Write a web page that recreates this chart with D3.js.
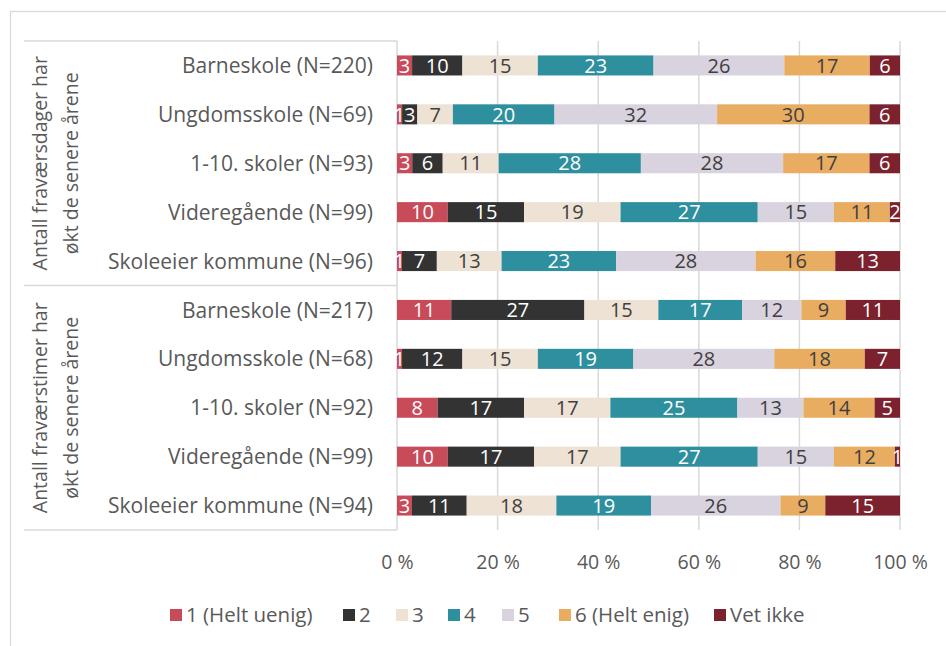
<!DOCTYPE html>
<html lang="no">
<head>
  <meta charset="UTF-8">
  <title>Fravær – stablet søylediagram</title>
  <style>
    * { margin: 0; padding: 0; box-sizing: border-box; }
    body { background: #fff; font-family: 'Open Sans', Lato, sans-serif; }
    svg text { font-family: 'Open Sans', Lato, sans-serif; }
  </style>
  <script src="https://cdn.jsdelivr.net/npm/d3@7/dist/d3.min.js"></script>
</head>
<body>
  <svg id="chart" width="946" height="646"></svg>

  <script>
    // rows, top to bottom
    const categories = [
      'Barneskole (N=220)', 'Ungdomsskole (N=69)', '1-10. skoler (N=93)', 'Videregående (N=99)', 'Skoleeier kommune (N=96)',
      'Barneskole (N=217)', 'Ungdomsskole (N=68)', '1-10. skoler (N=92)', 'Videregående (N=99)', 'Skoleeier kommune (N=94)'
    ];
    const groupLabels = [
      ['Antall fraværsdager har', 'økt de senere årene'],
      ['Antall fraværstimer har', 'økt de senere årene']
    ];
    const groupSize = 5;

    const seriesNames = ['1 (Helt uenig)', '2', '3', '4', '5', '6 (Helt enig)', 'Vet ikke'];
    const seriesColors = ['#C84B5A', '#333333', '#EDE2D4', '#2E8F9E', '#D9D2DF', '#E9AD62', '#7B222E'];
    const labelColors = ['#fff', '#fff', '#404040', '#fff', '#404040', '#404040', '#fff'];

    // percent per row
    const helUenig = [3, 1, 3, 10, 1, 11, 1, 8, 10, 3];
    const svar2    = [10, 3, 6, 15, 7, 27, 12, 17, 17, 11];
    const svar3    = [15, 7, 11, 19, 13, 15, 15, 17, 17, 18];
    const svar4    = [23, 20, 28, 27, 23, 17, 19, 25, 27, 19];
    const svar5    = [26, 32, 28, 15, 28, 12, 28, 13, 15, 26];
    const heltEnig = [17, 30, 17, 11, 16, 9, 18, 14, 12, 9];
    const vetIkke  = [6, 6, 6, 2, 13, 11, 7, 5, 1, 15];

    const xTicks = [0, 0.2, 0.4, 0.6, 0.8, 1];

    const seriesValues = [helUenig, svar2, svar3, svar4, svar5, heltEnig, vetIkke];
    // two groups reuse the same names, so rows are keyed by index
    const table = categories.map((c, i) => {
      const row = { idx: i, cat: c };
      seriesNames.forEach((s, j) => row[s] = seriesValues[j][i]);
      return row;
    });

    const svg = d3.select('#chart');
    const gridColor = '#d9d9d9';
    const textColor = '#595959';
    const fs = 19.5;

    svg.append('rect').attr('width', 946).attr('height', 646).attr('fill', '#fff');
    // outer chart frame (runs off the right / bottom edge)
    svg.append('rect')
      .attr('x', 10.5).attr('y', 11.5).attr('width', 960).attr('height', 660)
      .attr('fill', 'none').attr('stroke', gridColor).attr('stroke-width', 1.3);

    const plot = { left: 397, right: 900, top: 41, bottom: 530 };

    const x = d3.scaleLinear().domain([0, 1]).range([plot.left, plot.right]);
    const y = d3.scaleBand().domain(d3.range(categories.length)).range([plot.top, plot.bottom])
      .paddingInner(0.59).paddingOuter(0.295);

    // gridlines
    svg.append('g').selectAll('line').data(xTicks).join('line')
      .attr('x1', d => x(d)).attr('x2', d => x(d))
      .attr('y1', plot.top).attr('y2', plot.bottom)
      .attr('stroke', gridColor).attr('stroke-width', 1.5);

    // category table lines
    const step = y.step();
    const tableLines = [0, groupSize, categories.length].map(i => plot.top + i * step);
    svg.append('g').selectAll('line').data(tableLines).join('line')
      .attr('x1', 24).attr('x2', plot.left)
      .attr('y1', d => d).attr('y2', d => d)
      .attr('stroke', gridColor).attr('stroke-width', 1.3);

    // stacked bars
    const stack = d3.stack().keys(seriesNames).offset(d3.stackOffsetExpand);
    const layers = stack(table);

    const layer = svg.append('g').selectAll('g').data(layers).join('g')
      .attr('fill', (d, i) => seriesColors[i]);

    layer.selectAll('rect').data(d => d).join('rect')
      .attr('x', d => x(d[0]))
      .attr('width', d => x(d[1]) - x(d[0]))
      .attr('y', d => y(d.data.idx))
      .attr('height', y.bandwidth());

    const labels = svg.append('g').selectAll('g').data(layers).join('g')
      .attr('fill', (d, i) => labelColors[i]);

    labels.selectAll('text').data(d => d.map(p => ({ p, key: d.key }))).join('text')
      .attr('x', d => (x(d.p[0]) + x(d.p[1])) / 2)
      .attr('y', d => y(d.p.data.idx) + y.bandwidth() / 2)
      .attr('dy', '0.36em')
      .attr('text-anchor', 'middle')
      .attr('font-size', 20)
      .text(d => d.p.data[d.key]);

    // category labels
    svg.append('g').selectAll('text').data(table).join('text')
      .attr('x', 373)
      .attr('y', d => y(d.idx) + y.bandwidth() / 2)
      .attr('dy', '0.36em')
      .attr('text-anchor', 'end')
      .attr('font-size', 21)
      .attr('fill', textColor)
      .text(d => d.cat);

    // rotated group labels
    groupLabels.forEach((lines, g) => {
      const cy = plot.top + (g * groupSize + groupSize / 2) * step;
      const t = svg.append('text')
        .attr('transform', `translate(47,${cy}) rotate(-90)`)
        .attr('text-anchor', 'middle')
        .attr('font-size', fs)
        .attr('fill', textColor);
      lines.forEach((l, k) => t.append('tspan').attr('x', 0).attr('y', k * 31).text(l));
    });

    // x axis
    const xAxis = svg.append('g')
      .attr('transform', `translate(0,${plot.bottom + 22})`)
      .call(d3.axisBottom(x).tickValues(xTicks).tickSize(0).tickFormat(d => Math.round(d * 100) + ' %'));
    xAxis.select('.domain').remove();
    xAxis.selectAll('text').attr('font-size', fs).attr('font-family', null).attr('fill', textColor);

    // legend
    const legendX = [170, 343, 396, 448, 502, 559, 714];
    const legend = svg.append('g').selectAll('g').data(seriesNames).join('g')
      .attr('transform', (d, i) => `translate(${legendX[i]},615)`);
    legend.append('rect')
      .attr('y', -6).attr('width', 12).attr('height', 12)
      .attr('fill', (d, i) => seriesColors[i]);
    legend.append('text')
      .attr('x', 16).attr('dy', '0.36em')
      .attr('font-size', 20.5).attr('fill', textColor)
      .text(d => d);
  </script>
</body>
</html>
